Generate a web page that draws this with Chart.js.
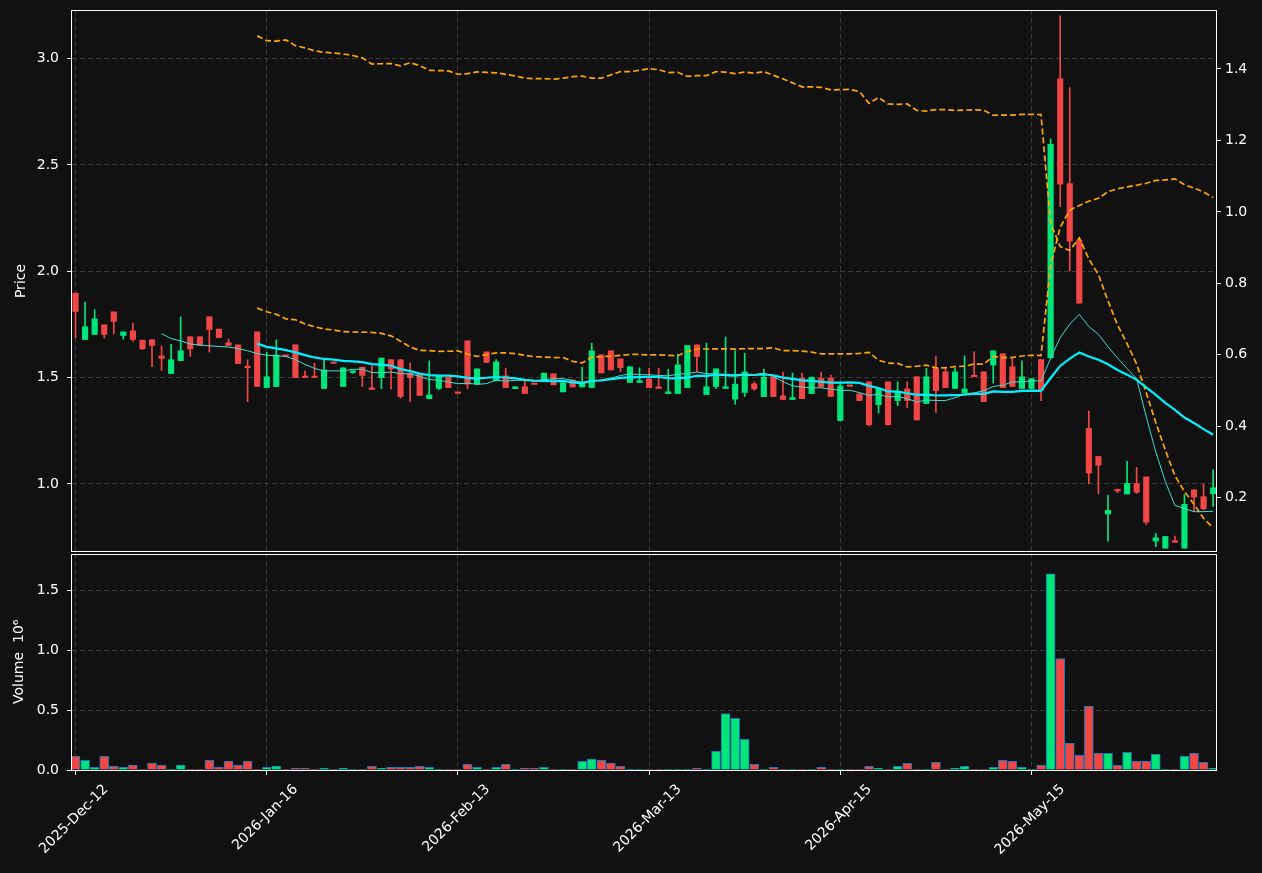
<!DOCTYPE html>
<html>
<head>
<meta charset="utf-8">
<script src="https://cdn.jsdelivr.net/npm/chart.js@4.4.1/dist/chart.umd.min.js"></script>
<style>
  html, body { margin: 0; padding: 0; background: #111111; }
  #wrap { position: relative; width: 1262px; height: 873px; }
  #price { position: absolute; left: 0; top: 0; }
  #vol { position: absolute; left: 0; top: 553px; }
</style>
</head>
<body>
<div id="wrap">
  <canvas id="price" width="1262" height="553"></canvas>
  <canvas id="vol" width="1262" height="320"></canvas>
</div>
<script>
// bar index of each labelled date on the x axis
const tickIdx = [0, 20, 40, 60, 80, 100];
const tickLabels = ['2025-Dec-12', '2026-Jan-16', '2026-Feb-13', '2026-Mar-13', '2026-Apr-15', '2026-May-15'];

const open = [1.897,1.679,1.703,1.748,1.809,1.698,1.720,1.676,1.678,1.602,
  1.519,1.580,1.692,1.692,1.786,1.728,1.664,1.654,1.549,1.715,
  1.453,1.458,1.600,1.654,1.502,1.502,1.449,1.571,1.458,1.524,
  1.549,1.452,1.500,1.584,1.584,1.520,1.516,1.401,1.449,1.502,
  1.428,1.673,1.469,1.621,1.485,1.508,1.448,1.457,1.470,1.489,
  1.518,1.433,1.489,1.456,1.453,1.607,1.626,1.588,1.477,1.477,
  1.494,1.457,1.425,1.425,1.453,1.654,1.420,1.458,1.449,1.399,
  1.430,1.471,1.411,1.505,1.414,1.397,1.497,1.425,1.497,1.497,
  1.298,1.461,1.424,1.480,1.373,1.480,1.392,1.447,1.504,1.378,
  1.543,1.527,1.449,1.427,1.506,1.527,1.559,1.612,1.551,1.449,
  1.449,1.585,1.592,2.905,2.412,2.145,1.261,1.129,0.858,0.970,
  0.953,1.002,1.033,0.731,0.698,0.728,0.698,0.972,0.940,0.954];

const high = [1.897,1.855,1.819,1.748,1.809,1.715,1.756,1.676,1.678,1.649,
  1.657,1.786,1.692,1.692,1.786,1.728,1.681,1.654,1.584,1.715,
  1.620,1.678,1.600,1.654,1.532,1.568,1.584,1.571,1.546,1.532,
  1.549,1.555,1.592,1.584,1.584,1.568,1.516,1.579,1.510,1.502,
  1.428,1.673,1.541,1.621,1.585,1.544,1.457,1.486,1.470,1.521,
  1.518,1.475,1.489,1.549,1.662,1.607,1.626,1.588,1.551,1.546,
  1.544,1.544,1.540,1.610,1.651,1.654,1.662,1.541,1.691,1.626,
  1.615,1.481,1.540,1.505,1.526,1.521,1.521,1.502,1.526,1.512,
  1.476,1.461,1.424,1.480,1.449,1.480,1.480,1.480,1.504,1.544,
  1.601,1.544,1.544,1.602,1.621,1.527,1.626,1.612,1.596,1.579,
  1.495,1.585,2.623,3.201,2.863,2.145,1.343,1.129,0.948,0.976,
  1.106,1.078,1.033,0.767,0.753,0.755,0.951,0.972,1.000,1.066];

const low = [1.687,1.679,1.703,1.686,1.705,1.681,1.670,1.632,1.552,1.533,
  1.519,1.580,1.599,1.651,1.620,1.688,1.651,1.566,1.387,1.458,
  1.453,1.458,1.600,1.500,1.500,1.500,1.449,1.567,1.458,1.520,
  1.458,1.444,1.448,1.446,1.403,1.387,1.416,1.400,1.444,1.453,
  1.425,1.448,1.469,1.571,1.485,1.453,1.448,1.425,1.468,1.489,
  1.466,1.433,1.456,1.456,1.453,1.522,1.536,1.528,1.477,1.477,
  1.453,1.449,1.425,1.425,1.453,1.528,1.420,1.448,1.449,1.375,
  1.411,1.440,1.411,1.411,1.397,1.397,1.401,1.425,1.456,1.411,
  1.298,1.459,1.392,1.273,1.333,1.278,1.368,1.358,1.301,1.378,
  1.336,1.453,1.449,1.427,1.504,1.387,1.474,1.453,1.458,1.449,
  1.449,1.392,1.592,2.304,2.002,1.850,1.000,0.954,0.731,0.959,
  0.953,0.955,0.809,0.705,0.698,0.725,0.698,0.873,0.878,0.894];

const close = [1.811,1.739,1.776,1.703,1.764,1.715,1.679,1.635,1.651,1.590,
  1.584,1.626,1.635,1.651,1.726,1.688,1.651,1.566,1.546,1.458,
  1.504,1.606,1.600,1.500,1.500,1.500,1.536,1.567,1.546,1.532,
  1.510,1.444,1.592,1.541,1.411,1.500,1.416,1.419,1.510,1.453,
  1.426,1.469,1.541,1.571,1.574,1.453,1.457,1.425,1.468,1.521,
  1.466,1.475,1.456,1.478,1.626,1.522,1.536,1.547,1.551,1.486,
  1.453,1.449,1.433,1.560,1.651,1.599,1.457,1.541,1.457,1.469,
  1.527,1.447,1.502,1.411,1.397,1.406,1.401,1.502,1.456,1.411,
  1.461,1.459,1.392,1.278,1.449,1.278,1.433,1.392,1.301,1.504,
  1.439,1.453,1.527,1.447,1.504,1.387,1.626,1.453,1.458,1.504,
  1.495,1.441,2.597,2.410,2.142,1.850,1.051,1.088,0.876,0.967,
  1.002,0.961,0.820,0.747,0.753,0.726,0.904,0.938,0.883,0.982];

// volume in millions of shares
const volume = [0.114,0.081,0.022,0.114,0.031,0.022,0.042,0.003,0.058,0.042,
  0.003,0.042,0.003,0.003,0.081,0.025,0.075,0.042,0.075,0.003,
  0.022,0.033,0.002,0.014,0.014,0.005,0.014,0.003,0.014,0.003,
  0.005,0.031,0.014,0.022,0.022,0.022,0.031,0.022,0.005,0.001,
  0.001,0.047,0.022,0.001,0.022,0.047,0.001,0.014,0.014,0.022,
  0.001,0.001,0.001,0.072,0.092,0.081,0.058,0.031,0.001,0.001,
  0.003,0.003,0.003,0.003,0.001,0.014,0.003,0.156,0.472,0.431,
  0.256,0.047,0.003,0.022,0.001,0.001,0.001,0.001,0.022,0.001,
  0.001,0.001,0.001,0.031,0.014,0.003,0.031,0.056,0.003,0.003,
  0.064,0.003,0.014,0.031,0.001,0.001,0.022,0.081,0.072,0.022,
  0.003,0.039,1.639,0.931,0.222,0.122,0.531,0.139,0.139,0.039,
  0.147,0.072,0.072,0.131,0.001,0.001,0.114,0.139,0.064,0.014];

const priceTicks = [1.0, 1.5, 2.0, 2.5, 3.0];
const bandTicks = [0.2, 0.4, 0.6, 0.8, 1.0, 1.2, 1.4];
const volTicks = [0, 0.5, 1.0, 1.5];

const UP = '#00e57a', DOWN = '#f04646', GRID = '#3a3a3a', FONT = 'DejaVu Sans';
const X_MIN = -0.37, X_MAX = 119.3;

// rolling indicators of the close, as drawn on the source chart
function rollMean(a, n) {
  return a.map((_, i) => i < n - 1 ? null : a.slice(i - n + 1, i + 1).reduce((s, v) => s + v, 0) / n);
}
function rollStd(a, n) {
  const m = rollMean(a, n);
  return a.map((_, i) => {
    if (i < n - 1) return null;
    const w = a.slice(i - n + 1, i + 1);
    return Math.sqrt(w.reduce((s, v) => s + (v - m[i]) ** 2, 0) / n);
  });
}
const ma10 = rollMean(close, 10);
const ma20 = rollMean(close, 20);
const sd20 = rollStd(close, 20);
const bbUp = ma20.map((m, i) => m === null ? null : m + 2 * sd20[i]);
const bbLo = ma20.map((m, i) => m === null ? null : m - 2 * sd20[i]);

const colors = close.map((c, i) => c > open[i] ? UP : DOWN);
const pts = arr => arr.map((v, i) => ({x: i, y: v}));

Chart.defaults.font.family = FONT;
Chart.defaults.font.size = 14;
Chart.defaults.color = '#ffffff';

// fixed axis sizes so both panels share the same plot edges
function fixSize(w, h) {
  return s => {
    if (w !== null) s.width = w;
    if (h !== null) s.height = h;
    s.paddingTop = 0; s.paddingBottom = 0; s.paddingLeft = 0; s.paddingRight = 0;
  };
}

const framePlugin = {
  id: 'frame',
  afterDatasetsDraw(chart) {
    const {ctx, chartArea: a} = chart;
    ctx.save();
    ctx.strokeStyle = '#ffffff';
    ctx.lineWidth = 1;
    ctx.strokeRect(Math.round(a.left) - 0.5, Math.round(a.top) + 0.5,
      Math.round(a.right - a.left) + 1, Math.round(a.bottom - a.top) - 1);
    ctx.restore();
  }
};

const dateLabelPlugin = {
  id: 'dateLabels',
  afterDraw(chart) {
    const {ctx, chartArea, scales} = chart;
    ctx.save();
    ctx.font = '14px "DejaVu Sans"';
    ctx.fillStyle = '#ffffff';
    ctx.textAlign = 'center';
    ctx.textBaseline = 'middle';
    tickIdx.forEach((v, k) => {
      const px = scales.x.getPixelForValue(v);
      const w = ctx.measureText(tickLabels[k]).width;
      const cy = chartArea.bottom + 13 + (w + 12) * Math.SQRT1_2 / 2;
      ctx.save();
      ctx.translate(px - 1.5, cy);
      ctx.rotate(-Math.PI / 4);
      ctx.fillText(tickLabels[k], 0, 0);
      ctx.restore();
    });
    ctx.restore();
  }
};

function xScale(bottom) {
  return {
    type: 'linear', min: X_MIN, max: X_MAX, offset: false,
    afterBuildTicks: s => { s.ticks = tickIdx.map(v => ({value: v})); },
    ticks: {display: false},
    grid: {color: GRID, offset: false, drawTicks: bottom, tickLength: 5, tickColor: '#ffffff', tickBorderDash: []},
    border: {display: false, dash: [5, 3]},
    afterFit: fixSize(null, bottom ? 103 : 0)
  };
}

function leftScale(min, max, ticks, title, titlePad) {
  return {
    type: 'linear', position: 'left', min: min, max: max,
    afterBuildTicks: s => { s.ticks = ticks.map(v => ({value: v})); },
    ticks: {color: '#ffffff', padding: 8, callback: v => v.toFixed(1)},
    grid: {color: GRID, tickLength: 5, tickColor: '#ffffff', tickBorderDash: []},
    border: {display: false, dash: [5, 3]},
    title: {display: true, text: title, color: '#ffffff', padding: {top: titlePad, bottom: 0}},
    afterFit: fixSize(72, null)
  };
}

new Chart(document.getElementById('price'), {
  type: 'bar',
  data: {
    datasets: [
      {type: 'line', data: pts(ma10), borderColor: '#40e0d0', borderWidth: 1, pointRadius: 0, order: 1, yAxisID: 'y'},
      {type: 'line', data: pts(ma20), borderColor: '#00f0ff', borderWidth: 2.2, pointRadius: 0, order: 1, yAxisID: 'y'},
      {type: 'line', data: pts(bbUp), borderColor: '#ffa500', borderWidth: 1.7, borderDash: [6, 3], pointRadius: 0, order: 1, yAxisID: 'y'},
      {type: 'line', data: pts(bbLo), borderColor: '#ffa500', borderWidth: 1.7, borderDash: [6, 3], pointRadius: 0, order: 1, yAxisID: 'y2'},
      {data: close.map((c, i) => ({x: i, y: [open[i], c]})), backgroundColor: colors, barThickness: 5.5,
        minBarLength: 1.5, grouped: false, order: 3, yAxisID: 'y'},
      {data: close.map((c, i) => ({x: i, y: [low[i], high[i]]})), backgroundColor: colors, barThickness: 1,
        grouped: false, order: 4, yAxisID: 'y'}
    ]
  },
  options: {
    responsive: false, animation: false, devicePixelRatio: 1,
    layout: {padding: {top: 10, bottom: 1, left: 0, right: 0}, autoPadding: false},
    plugins: {legend: {display: false}, tooltip: {enabled: false}},
    scales: {
      x: xScale(false),
      y: leftScale(0.680, 3.2285, priceTicks, 'Price', 13),
      y2: {
        type: 'linear', position: 'right', min: 0.0483, max: 1.565,
        afterBuildTicks: s => { s.ticks = bandTicks.map(v => ({value: v})); },
        ticks: {color: '#ffffff', padding: 4, callback: v => v.toFixed(1)},
        grid: {drawOnChartArea: false, tickLength: 5, tickColor: '#ffffff'},
        border: {display: false},
        afterFit: fixSize(46, null)
      }
    }
  },
  plugins: [framePlugin]
});

new Chart(document.getElementById('vol'), {
  type: 'bar',
  data: {
    datasets: [{
      data: pts(volume), backgroundColor: colors, borderColor: '#1f77b4', borderWidth: 1,
      barThickness: 9, grouped: false
    }]
  },
  options: {
    responsive: false, animation: false, devicePixelRatio: 1,
    layout: {padding: {top: 0.5, bottom: 0, left: 0, right: 46}, autoPadding: false},
    plugins: {legend: {display: false}, tooltip: {enabled: false}},
    scales: {
      x: xScale(true),
      y: leftScale(0, 1.809, volTicks, 'Volume  10⁶', 11)
    }
  },
  plugins: [framePlugin, dateLabelPlugin]
});
</script>
</body>
</html>
